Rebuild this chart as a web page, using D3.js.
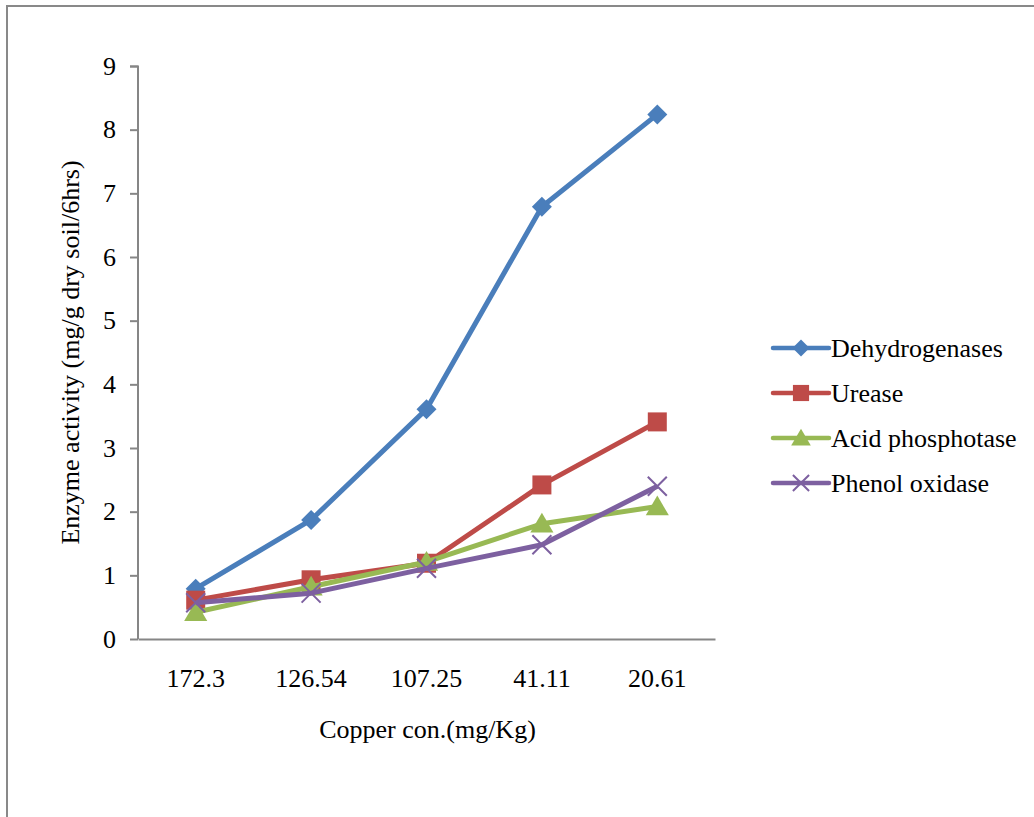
<!DOCTYPE html>
<html>
<head>
<meta charset="utf-8">
<script src="https://cdn.jsdelivr.net/npm/d3@7"></script>
<style>
  body { margin: 0; background: #fff; }
  text { font-family: "Liberation Serif", "Times New Roman", serif; fill: #000; }
</style>
</head>
<body>
<div id="chart"></div>
<script>
// chart values
var categories = ["172.3", "126.54", "107.25", "41.11", "20.61"];
var seriesNames = ["Dehydrogenases", "Urease", "Acid phosphotase", "Phenol oxidase"];
var dehydrogenases = [0.79, 1.87, 3.61, 6.79, 8.24];
var urease = [0.61, 0.93, 1.19, 2.42, 3.41];
var acidPhosphotase = [0.42, 0.82, 1.21, 1.81, 2.08];
var phenolOxidase = [0.57, 0.72, 1.11, 1.48, 2.40];
var yTicks = [0, 1, 2, 3, 4, 5, 6, 7, 8, 9];

var svgWidth = 1034;
var svgHeight = 817;

var margin = { top: 66, left: 138 };
var width = 577;
var height = 573;
var fontSize = "26px";

var colors = ["#4A7EBB", "#BE4B48", "#98B954", "#7D60A0"];
var symbols = ["diamond", "square", "triangle", "x"];
var allSeries = [dehydrogenases, urease, acidPhosphotase, phenolOxidase];

var svg = d3.select("#chart")
  .append("svg")
  .attr("width", svgWidth)
  .attr("height", svgHeight);

// outer frame
svg.append("rect")
  .attr("x", 7)
  .attr("y", 6)
  .attr("width", svgWidth + 20)
  .attr("height", svgHeight + 20)
  .attr("fill", "none")
  .attr("stroke", "#898989")
  .attr("stroke-width", 2);

var chartGroup = svg.append("g")
  .attr("transform", `translate(${margin.left}, ${margin.top})`);

var xScale = d3.scaleBand()
  .domain(categories)
  .range([0, width]);

var yScale = d3.scaleLinear()
  .domain([0, 9])
  .range([height, 0]);

var leftAxis = d3.axisLeft(yScale).tickValues(yTicks).tickSize(8).tickPadding(14);
var bottomAxis = d3.axisBottom(xScale).tickSize(0).tickPadding(30);

var yAxisG = chartGroup.append("g").call(leftAxis);
var xAxisG = chartGroup.append("g")
  .attr("transform", `translate(0, ${height})`)
  .call(bottomAxis);

[yAxisG, xAxisG].forEach(function(g) {
  g.select(".domain").attr("stroke", "#868686").attr("stroke-width", 2);
  g.selectAll(".tick line").attr("stroke", "#868686").attr("stroke-width", 2);
  g.selectAll("text")
    .style("font-family", "'Liberation Serif', 'Times New Roman', serif")
    .style("font-size", fontSize)
    .attr("fill", "#000");
});
yAxisG.select(".domain").attr("d", `M-8,0.5H0V${height}`);

function markerPath(type, s) {
  if (type === "diamond") return `M0,${-s}L${s},0L0,${s}L${-s},0Z`;
  if (type === "square") return `M${-s},${-s}H${s}V${s}H${-s}Z`;
  if (type === "triangle") return `M0,${-s}L${s * 1.05},${s * 0.8}H${-s * 1.05}Z`;
  return `M${-s},${-s}L${s},${s}M${-s},${s}L${s},${-s}`;
}
var markerSize = [10, 9.5, 11, 9.5];

var line = d3.line()
  .x((d, i) => xScale(categories[i]) + xScale.bandwidth() / 2)
  .y(d => yScale(d));

allSeries.forEach(function(values, k) {
  var g = chartGroup.append("g");
  g.append("path")
    .datum(values)
    .attr("d", line)
    .attr("fill", "none")
    .attr("stroke", colors[k])
    .attr("stroke-width", 5)
    .attr("stroke-linejoin", "round");

  g.selectAll("path.marker")
    .data(values)
    .enter()
    .append("path")
    .attr("class", "marker")
    .attr("transform", (d, i) => `translate(${xScale(categories[i]) + xScale.bandwidth() / 2}, ${yScale(d)})`)
    .attr("d", markerPath(symbols[k], markerSize[k]))
    .attr("fill", symbols[k] === "x" ? "none" : colors[k])
    .attr("stroke", colors[k])
    .attr("stroke-width", symbols[k] === "x" ? 2 : 0);
});

// axis titles
chartGroup.append("text")
  .attr("transform", `translate(${-68}, ${height / 2}) rotate(-90)`)
  .attr("dy", "0.35em")
  .attr("text-anchor", "middle")
  .style("font-size", fontSize)
  .text("Enzyme activity (mg/g dry soil/6hrs)");

chartGroup.append("text")
  .attr("x", width / 2 + 1)
  .attr("y", height + 99)
  .attr("text-anchor", "middle")
  .style("font-size", fontSize)
  .text("Copper con.(mg/Kg)");

// legend
var legend = svg.append("g").attr("transform", "translate(773, 348)");
seriesNames.forEach(function(name, k) {
  var row = legend.append("g").attr("transform", `translate(0, ${k * 45})`);
  row.append("line")
    .attr("x1", 0).attr("x2", 56)
    .attr("stroke", colors[k])
    .attr("stroke-width", 4.5)
    .attr("stroke-linecap", "round");
  row.append("path")
    .attr("transform", "translate(28, 0)")
    .attr("d", markerPath(symbols[k], markerSize[k] * 0.85))
    .attr("fill", symbols[k] === "x" ? "none" : colors[k])
    .attr("stroke", colors[k])
    .attr("stroke-width", symbols[k] === "x" ? 2 : 0);
  row.append("text")
    .attr("x", 58)
    .attr("y", 9)
    .style("font-size", fontSize)
    .text(name);
});
</script>
</body>
</html>
